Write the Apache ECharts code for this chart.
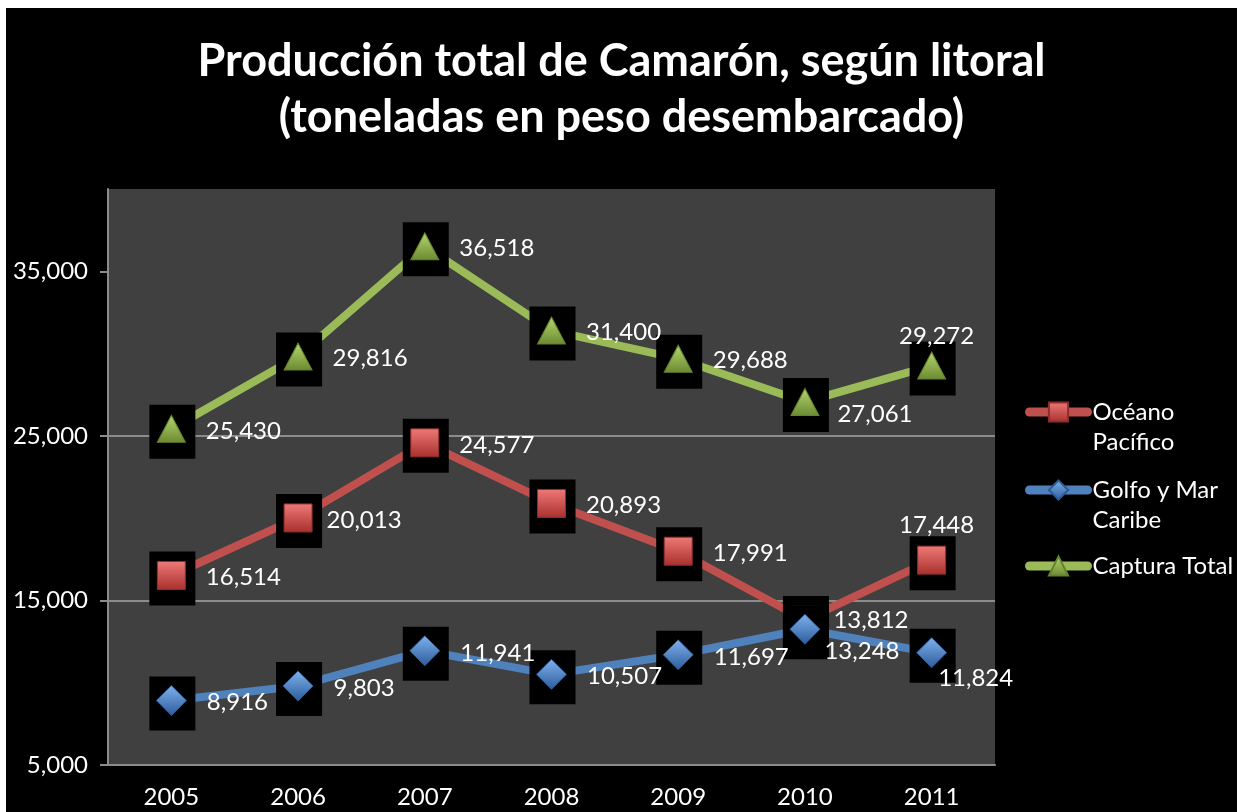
<!DOCTYPE html>
<html>
<head>
<meta charset="utf-8">
<script src="https://cdn.jsdelivr.net/npm/echarts@6/dist/echarts.min.js"></script>
<style>
    html, body { margin: 0; padding: 0; background: #fff; }
    #chrt_camaron {
        position: absolute; left: 6px; top: 8px;
        width: 1231px; height: 804px;
        background: #000;
    }
</style>
</head>
<body>
<div id="chrt_camaron"></div>
<script>
// datos
const years = [ '2005', '2006', '2007', '2008', '2009', '2010', '2011' ]
const pacifico = [ 16514, 20013, 24577, 20893, 17991, 13812, 17448 ]
const golfo = [ 8916, 9803, 11941, 10507, 11697, 13248, 11824 ]
const total = [ 25430, 29816, 36518, 31400, 29688, 27061, 29272 ]
const yTicks = [ 5000, 15000, 25000, 35000 ]

const FONT = 'Lato'

// ajustes de etiquetas (null = a la derecha)
const labelTweaks = {
    pacifico: [ null, [-6, 2], null, null, null, [-6, 0], 'top' ],
    golfo:    [ null, null, null, null, null, [-16, 22], [-29, 26] ],
    total:    [ null, null, null, null, null, [-2, 12], 'top' ]
}

function grad(c1, c2) {
    return {
        type: 'linear', x: 0, y: 0, x2: 0, y2: 1,
        colorStops: [ { offset: 0, color: c1 }, { offset: 1, color: c2 } ]
    }
}

const defs = [
    { key: 'pacifico', name: 'Océano Pacífico', data: pacifico, line: '#c0504d',
      symbol: 'rect', size: 28, fill: grad('#ee7a77', '#a8302d'), border: '#8c2f2c', topOff: [5, -6] },
    { key: 'golfo', name: 'Golfo y Mar Caribe', data: golfo, line: '#4f81bd',
      symbol: 'diamond', size: [30, 30], fill: grad('#7fb2ee', '#2c5c9a'), border: '#2c5a94', topOff: [5, -1] },
    { key: 'total', name: 'Captura Total', data: total, line: '#9bbb59',
      symbol: 'triangle', size: [28, 27], fill: grad('#b6d66e', '#6b8a32'), border: '#65822f', topOff: [5, -1] }
]

const series = []
defs.forEach(function (d, i) {
    // linea
    series.push({
        name: d.name, type: 'line', data: d.data,
        symbol: d.symbol, showSymbol: false, z: 2,
        lineStyle: { width: 8, color: d.line, cap: 'round', join: 'round' },
        itemStyle: { color: d.fill, borderColor: d.border, borderWidth: 1 },
        emphasis: { disabled: true }
    })
    // cuadro negro detras del marcador
    series.push({
        name: d.name + ' fondo', type: 'scatter', data: d.data,
        symbol: 'rect', symbolSize: [46, 54], symbolOffset: [1, 3],
        itemStyle: { color: '#000', opacity: 1 }, z: 3 + i * 2, silent: true
    })
    // marcador + etiqueta
    series.push({
        name: d.name + ' marca', type: 'scatter', z: 4 + i * 2, silent: true,
        symbol: d.symbol, symbolSize: d.size,
        itemStyle: { color: d.fill, borderColor: d.border, borderWidth: 1, opacity: 1 },
        label: {
            show: true, position: 'right', distance: 20, offset: [0, 2],
            color: '#fff', fontFamily: FONT, fontSize: 24,
            formatter: function (p) { return p.value.toLocaleString('en-US') }
        },
        data: d.data.map(function (v, j) {
            const t = labelTweaks[d.key][j]
            if (t === 'top') return { value: v, label: { position: 'top', distance: 2, offset: d.topOff } }
            if (t) return { value: v, label: { offset: t } }
            return v
        })
    })
})

const legendText = {
    'Océano Pacífico': '\nOcéano\nPacífico',
    'Golfo y Mar Caribe': '\nGolfo y Mar\nCaribe',
    'Captura Total': 'Captura Total'
}
const legendTops = [ 359, 437, 543 ]

const option = {
    animation: false,
    title: {
        text: 'Producción total de Camarón, según litoral\n(toneladas en peso desembarcado)',
        left: 'center', top: 20,
        textStyle: { color: '#fff', fontFamily: FONT, fontWeight: 'bold', fontSize: 45, lineHeight: 56 }
    },
    legend: defs.map(function (d, i) {
        return {
            data: [ d.name ], orient: 'vertical', left: 1019, top: legendTops[i],
            padding: 0, itemWidth: 58, itemHeight: 24, selectedMode: false,
            lineStyle: { width: 9, cap: 'round' },
            formatter: function (n) { return legendText[n] },
            textStyle: { color: '#fff', fontFamily: FONT, fontSize: 24, lineHeight: 30 }
        }
    }),
    grid: { left: 102, right: 242, top: 181, bottom: 47, show: true, backgroundColor: '#404040', borderWidth: 0 },
    xAxis: {
        type: 'category', data: years, boundaryGap: true,
        axisLine: { lineStyle: { color: '#8c8c8c', width: 2 } },
        axisTick: { length: 8, lineStyle: { color: '#8c8c8c', width: 2 } },
        axisLabel: { color: '#fff', fontFamily: FONT, fontSize: 24, margin: 20 }
    },
    yAxis: {
        type: 'value', min: 5000, max: 40000, interval: 10000,
        axisLine: { show: true, lineStyle: { color: '#8c8c8c', width: 2 } },
        axisTick: { show: true, length: 8, customValues: yTicks, lineStyle: { color: '#8c8c8c', width: 2 } },
        axisLabel: {
            color: '#fff', fontFamily: FONT, fontSize: 24, margin: 20, customValues: yTicks,
            formatter: function (v) { return v.toLocaleString('en-US') }
        },
        splitLine: { show: true, showMaxLine: false, lineStyle: { color: '#8c8c8c', width: 2 } }
    },
    series: series
}

const chart = echarts.init(document.getElementById('chrt_camaron'))
chart.setOption(option)
</script>
</body>
</html>
